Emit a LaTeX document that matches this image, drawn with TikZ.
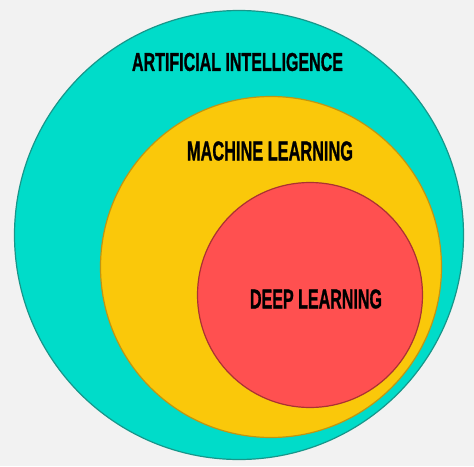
\documentclass[tikz,border=0pt]{standalone}
\usepackage{fontspec}
\setmainfont{Liberation Sans}
\newfontfamily\labelfont[FakeBold=1.2]{Liberation Sans Bold}
\usepackage{graphicx}
\usetikzlibrary{positioning}
\definecolor{bggray}{RGB}{242,242,242}
\definecolor{aiteal}{RGB}{0,220,201}
\definecolor{aiedge}{RGB}{24,150,138}
\definecolor{mlyellow}{RGB}{250,200,10}
\definecolor{mledge}{RGB}{190,150,20}
\definecolor{dlred}{RGB}{255,80,80}
\definecolor{dledge}{RGB}{170,50,50}

\begin{document}
\begin{tikzpicture}[
    x=1pt, y=-1pt,
    field/.style={circle, draw, line width=1.2pt, inner sep=0pt},
    caption/.style={inner sep=0pt, text=black}
]
\useasboundingbox (0,0) rectangle (474,466);
\fill[bggray] (0,0) rectangle (474,466);

% Nested fields
\node[field, fill=aiteal, draw=aiedge, minimum size=449pt] (ai) at (239,235) {};
\node[field, fill=mlyellow, draw=mledge, minimum size=341pt] (ml) at (271,267) {};
\node[field, fill=dlred, draw=dledge, minimum size=225pt] (dl) at (310,295) {};

% Labels
\node[caption] (ailabel) at (237.5,62) {\resizebox{211pt}{18pt}{\labelfont ARTIFICIAL INTELLIGENCE}};
\node[caption] (mllabel) at (270,151) {\resizebox{166pt}{19pt}{\labelfont MACHINE LEARNING}};
\node[caption] (dllabel) at (316,299) {\resizebox{132pt}{19pt}{\labelfont DEEP LEARNING}};

\end{tikzpicture}
\end{document}
